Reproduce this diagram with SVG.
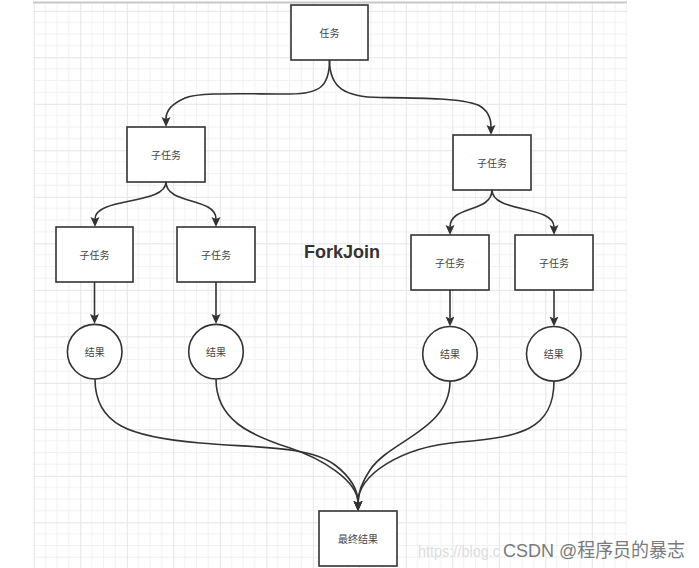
<svg xmlns="http://www.w3.org/2000/svg" width="699" height="568" viewBox="0 0 699 568">
<defs>
<pattern id="grid" patternUnits="userSpaceOnUse" x="33.8" y="10.8" width="46.5" height="46.5">
<path d="M11.625,0V46.5M23.25,0V46.5M34.875,0V46.5M0,11.625H46.5M0,23.25H46.5M0,34.875H46.5" stroke="#f1f1f1" stroke-width="1" fill="none"/>
<path d="M0.5,0V46.5M0,0.5H46.5" stroke="#e4e4e4" stroke-width="1" fill="none"/>
</pattern>
<marker id="arr" markerUnits="userSpaceOnUse" markerWidth="12" markerHeight="10" refX="2" refY="4.5" orient="auto" viewBox="0 0 12 10">
<path d="M0,0 L10,4.5 L0,9 L2,4.5 Z" fill="#333"/>
</marker>
<style>
.box{fill:#fff;stroke:#333;stroke-width:1.6}
.lbl{font-family:"Noto Sans CJK SC","Noto Sans",sans-serif;font-size:10px;fill:#444;text-anchor:middle;dominant-baseline:central}
.edge{fill:none;stroke:#333;stroke-width:1.6;marker-end:url(#arr)}
</style>
</defs>
<rect x="0" y="0" width="699" height="568" fill="#fff"/>
<rect x="33" y="3" width="594" height="565" fill="url(#grid)"/>
<line x1="33" y1="2.5" x2="627" y2="2.5" stroke="#c8c8c8" stroke-width="2"/>

<g id="connectors">
<path class="edge" d="M329.5,60 C329.5,86 320,94 290,94 C240,94 200,92 185,98 C172,104 166,110 166,119"/>
<path class="edge" d="M329.5,60 C329.5,88 345,97 380,97.5 C420,98 460,98 478,105 C488,110 491,118 491,127"/>
<path class="edge" d="M166,182 C166,205 95,197 95,219"/>
<path class="edge" d="M166,182 C166,205 216,197 216,219"/>
<path class="edge" d="M492,190 C492,213 450,205 450,227"/>
<path class="edge" d="M492,190 C492,213 554,205 554,227"/>
<path class="edge" d="M94.5,282 V316"/>
<path class="edge" d="M216,282 V316"/>
<path class="edge" d="M450,290 V318.5"/>
<path class="edge" d="M554,290 V318.5"/>
<path class="edge" d="M95,379 C95,425 130,437 200,443 C260,448 310,446 335,465 C352,478 358,490 358,503"/>
<path class="edge" d="M216,379 C216,420 250,435 290,448 C320,458 358,480 358,503"/>
<path class="edge" d="M450,381 C450,430 390,440 370,470 C362,482 358,492 358,503"/>
<path class="edge" d="M554,381 C554,430 520,437 460,442 C400,447 358,475 358,503"/>
</g>

<g id="task"><rect class="box" x="291" y="5" width="77" height="55"/><text class="lbl" x="329.5" y="32.5">任务</text></g>
<g id="sub-l"><rect class="box" x="127" y="127" width="78" height="55"/><text class="lbl" x="166" y="154.5">子任务</text></g>
<g id="sub-r"><rect class="box" x="453" y="135" width="78" height="55"/><text class="lbl" x="492" y="162.5">子任务</text></g>
<g id="sub-ll"><rect class="box" x="56" y="227" width="77" height="55"/><text class="lbl" x="94.5" y="254.5">子任务</text></g>
<g id="sub-lr"><rect class="box" x="177" y="227" width="78" height="55"/><text class="lbl" x="216" y="254.5">子任务</text></g>
<g id="sub-rl"><rect class="box" x="411" y="235" width="78" height="55"/><text class="lbl" x="450" y="262.5">子任务</text></g>
<g id="sub-rr"><rect class="box" x="515" y="235" width="78" height="55"/><text class="lbl" x="554" y="262.5">子任务</text></g>
<g id="res1"><circle class="box" cx="94.7" cy="351.7" r="27.3"/><text class="lbl" x="94.7" y="351.7">结果</text></g>
<g id="res2"><circle class="box" cx="216" cy="351.7" r="27.3"/><text class="lbl" x="216" y="351.7">结果</text></g>
<g id="res3"><circle class="box" cx="450" cy="353.8" r="27.3"/><text class="lbl" x="450" y="353.8">结果</text></g>
<g id="res4"><circle class="box" cx="553.8" cy="353.8" r="27.3"/><text class="lbl" x="553.8" y="353.8">结果</text></g>
<g id="final"><rect class="box" x="319" y="511" width="78" height="55"/><text class="lbl" x="358" y="538.5">最终结果</text></g>

<text x="304" y="257.5" font-family="'Liberation Sans',Arial,sans-serif" font-size="18" font-weight="bold" fill="#333">ForkJoin</text>

<text x="418" y="557" font-family="'Liberation Sans',Arial,sans-serif" font-size="16" fill="#ddd" textLength="82" lengthAdjust="spacingAndGlyphs">https://blog.c</text>
<text x="503" y="557" font-family="'Liberation Sans','Noto Sans CJK SC',sans-serif" font-size="19" fill="#7a7a7a" textLength="182" lengthAdjust="spacingAndGlyphs">CSDN @程序员的暴志</text>
</svg>
